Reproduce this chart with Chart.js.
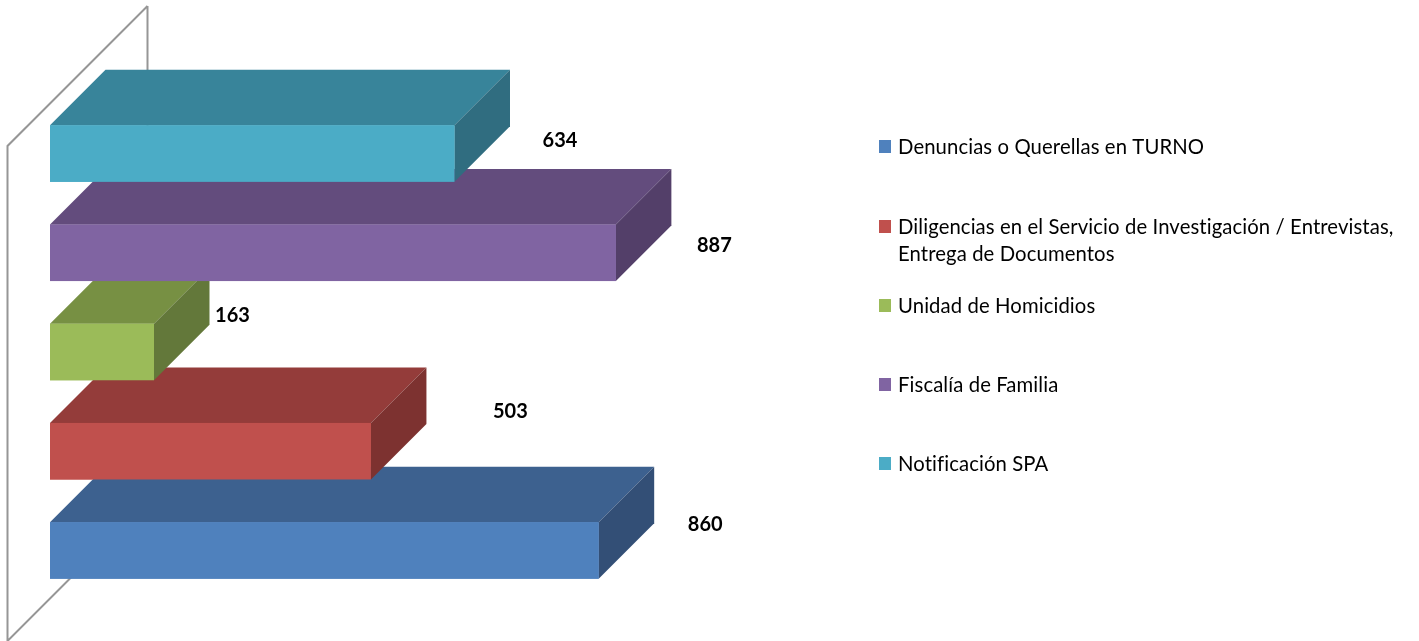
<!DOCTYPE html>
<html>
<head>
<meta charset="utf-8">
<style>html,body{margin:0;padding:0;background:#fff;overflow:hidden}#w{position:relative;width:1419px;height:641px}</style>
<script src="https://cdn.jsdelivr.net/npm/chart.js@4"></script>
</head>
<body>
<div id="w"><canvas id="c" width="1419" height="641"></canvas></div>
<script>
const categories = ["Denuncias o Querellas en TURNO","Diligencias en el Servicio de Investigación / Entrevistas, Entrega de Documentos","Unidad de Homicidios","Fiscalía de Familia","Notificación SPA"];
const legendLines = [["Denuncias o Querellas en TURNO"],["Diligencias en el Servicio de Investigación / Entrevistas,","Entrega de Documentos"],["Unidad de Homicidios"],["Fiscalía de Familia"],["Notificación SPA"]];
const values = [860,503,163,887,634];
const frontColors = ["#4F81BD","#C0504D","#9BBB59","#8064A2","#4BACC6"];
const topColors = ["#3D618F","#943C3A","#779043","#634C7D","#38849A"];
const sideColors = ["#334F76","#7D3230","#63783A","#533F69","#306D80"];
const labelNudge = [[51,-25.5],[84,-39.5],[23,-36],[43,-7],[50,-13.5]];
const legendRowY = [147,227,306,385,464];
const FONT = 'Lato, sans-serif';
const DEPTH = 55.5;

const wallPlugin = {
  id:'wall',
  beforeDatasetsDraw(chart){
    const {ctx,chartArea:a}=chart;
    ctx.save();
    ctx.strokeStyle='#969696';ctx.lineWidth=2;ctx.lineJoin='miter';
    ctx.beginPath();
    const L=a.left-42.5,T=a.top+42;
    ctx.moveTo(L+140,T-140);ctx.lineTo(L+140,a.top+70);
    ctx.moveTo(L+140,T-140);ctx.lineTo(L,T);ctx.lineTo(L,a.bottom+41);ctx.lineTo(L+70,a.bottom-29);
    ctx.stroke();
    ctx.restore();
  }
};
const box3d = {
  id:'box3d',
  afterDatasetsDraw(chart){
    const {ctx}=chart;const meta=chart.getDatasetMeta(0);
    ctx.save();
    meta.data.forEach((b,i)=>{
      const r=b.x,l=b.base,h=b.height,t=b.y-h/2,bt=b.y+h/2;
      ctx.fillStyle=topColors[i];ctx.beginPath();
      ctx.moveTo(l,t);ctx.lineTo(l+DEPTH,t-DEPTH);ctx.lineTo(r+DEPTH,t-DEPTH);ctx.lineTo(r,t);ctx.closePath();ctx.fill();
      ctx.fillStyle=sideColors[i];ctx.beginPath();
      ctx.moveTo(r,t);ctx.lineTo(r+DEPTH,t-DEPTH);ctx.lineTo(r+DEPTH,bt-DEPTH);ctx.lineTo(r,bt);ctx.closePath();ctx.fill();
      ctx.fillStyle=frontColors[i];ctx.fillRect(l,t,r-l,h);
    });
    ctx.fillStyle='#000';ctx.font='bold 20px '+FONT;ctx.textAlign='center';ctx.textBaseline='middle';
    meta.data.forEach((b,i)=>{
      ctx.fillText(String(values[i]),b.x+DEPTH+labelNudge[i][0],b.y+labelNudge[i][1]);
    });
    ctx.font='20.3px '+FONT;ctx.textAlign='left';ctx.letterSpacing='0.1px';
    legendLines.forEach((ls,i)=>{
      ctx.fillStyle=frontColors[i];ctx.fillRect(879,legendRowY[i]-7,12,13);
      ctx.fillStyle='#000';
      ls.forEach((s,j)=>ctx.fillText(s,898,legendRowY[i]+j*27));
    });
    ctx.restore();
  }
};
new Chart(document.getElementById('c'),{
  type:'bar',
  data:{labels:categories,datasets:[{data:values,backgroundColor:frontColors,borderWidth:0,barPercentage:0.57,categoryPercentage:1}]},
  plugins:[wallPlugin,box3d],
  options:{
    indexAxis:'y',responsive:false,animation:false,
    layout:{padding:{left:50,top:104,right:731,bottom:41}},
    plugins:{legend:{display:false},tooltip:{enabled:false},title:{display:false}},
    scales:{
      x:{min:0,max:1000,display:false},
      y:{reverse:true,display:false}
    }
  }
});
</script>
</body>
</html>
